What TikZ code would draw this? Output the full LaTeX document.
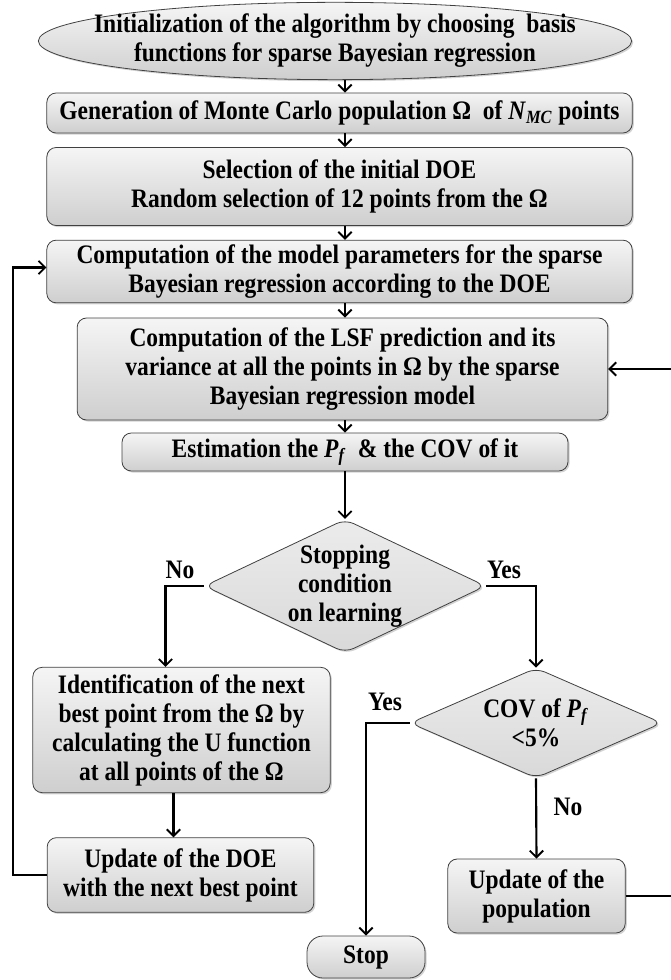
\documentclass[tikz,border=0pt]{standalone}
\usepackage{fontspec}
\setmainfont{Liberation Serif}[FakeStretch=0.88]
\usetikzlibrary{shapes.geometric,arrows.meta,shadows}

\tikzset{
  box/.style={rectangle, rounded corners=7pt, draw=black!75, line width=0.6pt,
    top color=gray!8, bottom color=gray!38, drop shadow={shadow xshift=1.2pt,shadow yshift=-1.2pt,opacity=0.35},
    align=center, inner sep=2pt, font=\fontsize{20}{21.75}\selectfont\bfseries},
  start/.style={box, ellipse, inner xsep=-28pt, inner ysep=-4pt},
  decide/.style={box, diamond, aspect=2.1, inner sep=-4pt, top color=gray!15, bottom color=gray!30},
  lbl/.style={font=\fontsize{20}{21.75}\selectfont\bfseries},
  arr/.style={line width=1.6pt, -{Straight Barb[length=5pt,width=10pt,line width=1.4pt]}}
}

\newcommand{\Pf}{\textit{P}\textsubscript{\textit{f}}}

\begin{document}
\begin{tikzpicture}[x=0.75pt,y=-0.75pt]
\useasboundingbox (0,0) rectangle (670,980);

% main column
\node[start, minimum width=445pt, minimum height=58pt] (init) at (335,41)
  {Initialization of the algorithm by choosing\ \ basis\\ functions for sparse Bayesian regression};
\node[box, minimum width=439pt, minimum height=30pt] (gen) at (339.5,113)
  {Generation of Monte Carlo population Ω\ \ of \textit{N}\textsubscript{\textit{MC}} points};
\node[box, minimum width=439pt, minimum height=58.5pt] (sel) at (339.5,186.5)
  {Selection of the initial DOE\\ Random selection of 12 points from the Ω};
\node[box, minimum width=439pt, minimum height=47pt] (comp) at (339.5,271.5)
  {Computation of the model parameters for the sparse\\ Bayesian regression according to the DOE};
\node[box, minimum width=398pt, minimum height=76.5pt] (lsf) at (342.5,369)
  {Computation of the LSF prediction and its\\ variance at all the points in Ω by the sparse\\ Bayesian regression model};
\node[box, minimum width=334.5pt, minimum height=28.5pt] (est) at (345,452)
  {Estimation the \Pf\ \ \& the COV of it};
\node[decide, minimum width=211pt, minimum height=100pt] (stopc) at (345,586)
  {Stopping\\ condition\\ on learning};

% left branch
\node[box, minimum width=223pt, minimum height=94pt] (ident) at (181.5,730)
  {Identification of the next\\ best point from the Ω by\\ calculating the U function\\ at all points of the Ω};
\node[box, minimum width=200pt, minimum height=56pt] (upd) at (180.5,875)
  {Update of the DOE\\ with the next best point};

% right branch
\node[decide, aspect=2.3, minimum width=189pt, minimum height=82.5pt] (cov) at (536,723)
  {COV of \Pf\\ <5\%};
\node[box, minimum width=133pt, minimum height=55.5pt] (pop) at (536.5,896)
  {Update of the\\ population};
\node[box, rounded corners=12pt, minimum width=88.5pt, minimum height=31.5pt] (stop) at (366,957)
  {Stop};

% labels
\node[lbl] (no1) at (180,570) {No};
\node[lbl] (yes1) at (504,570) {Yes};
\node[lbl] (yes2) at (385,702) {Yes};
\node[lbl] (no2) at (568,807) {No};

% connectors
\draw[arr] (init.south -| est) -- (gen.north -| est);
\draw[arr] (gen.south -| est) -- (sel.north -| est);
\draw[arr] (sel.south -| est) -- (comp.north -| est);
\draw[arr] (comp.south -| est) -- (lsf.north -| est);
\draw[arr] (lsf.south -| est) -- (est.north);
\draw[arr] (est.south) -- (stopc.north);
\draw[arr] (stopc.west) -| ([xshift=-12pt]ident.north);
\draw[arr] ([xshift=-6pt]ident.south) -- ([xshift=-6pt]ident.south |- upd.north);
\draw[arr] (upd.west) -- ++(-34,0) |- ([yshift=3pt]comp.west);
\draw[arr] (stopc.east) -| (cov.north);
\draw[arr] (cov.west) -| (stop.north);
\draw[arr] (cov.south) -- (pop.north);
\draw[arr] (pop.east) -- ++(48,0) |- (lsf.east);
\end{tikzpicture}
\end{document}
